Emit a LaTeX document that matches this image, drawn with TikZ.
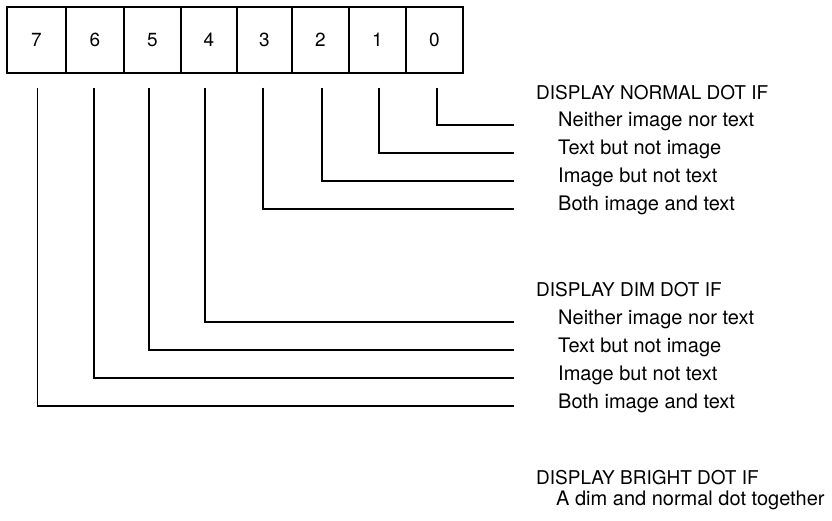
\documentclass[tikz,border=0pt]{standalone}
\usepackage{fontspec}
\setmainfont{TeX Gyre Heros}
\usetikzlibrary{calc}
\begin{document}
\begin{tikzpicture}[x=1pt,y=-1pt,
  bitbox/.style={draw,line width=1.4pt,minimum height=66pt,inner sep=0pt,font=\fontsize{19}{23}\selectfont},
  lbl/.style={anchor=west,inner sep=0pt,text height=13.7pt,text depth=0pt,font=\fontsize{20}{24}\selectfont},
  ttl/.style={anchor=west,inner sep=0pt,text height=13.7pt,text depth=0pt,font=\fontsize{19}{23}\selectfont},
  wire/.style={line width=1.3pt}]
\useasboundingbox (0,0) rectangle (832,520);
% bit boxes
\node[bitbox,minimum width=59pt] (b7) at (36.5,40) {7};
\node[bitbox,minimum width=58pt] (b6) at (95,40) {6};
\node[bitbox,minimum width=57pt] (b5) at (152.5,40) {5};
\node[bitbox,minimum width=56pt] (b4) at (209,40) {4};
\node[bitbox,minimum width=55pt] (b3) at (264.5,40) {3};
\node[bitbox,minimum width=57pt] (b2) at (320.5,40) {2};
\node[bitbox,minimum width=57pt] (b1) at (377.5,40) {1};
\node[bitbox,minimum width=57pt] (b0) at (434.5,40) {0};
% start points of leads
\coordinate (s7) at ($(b7.south)+(1,14)$);
\coordinate (s6) at ($(b6.south)+(-1,14)$);
\coordinate (s5) at ($(b5.south)+(-3.5,14)$);
\coordinate (s4) at ($(b4.south)+(-4,14)$);
\coordinate (s3) at ($(b3.south)+(-1.5,14)$);
\coordinate (s2) at ($(b2.south)+(1.5,14)$);
\coordinate (s1) at ($(b1.south)+(1.5,14)$);
\coordinate (s0) at ($(b0.south)+(2.5,14)$);
% end points
\coordinate (e0) at (514,125);
\coordinate (e1) at (514,153);
\coordinate (e2) at (514,181);
\coordinate (e3) at (514,209);
\coordinate (e4) at (514,322);
\coordinate (e5) at (514,350);
\coordinate (e6) at (514,378);
\coordinate (e7) at (514,406);
\foreach \i in {0,...,7} {\draw[wire] (s\i) |- (e\i);}
% labels
\node[ttl] (tn) at (536,93) {DISPLAY NORMAL DOT IF};
\node[lbl] (n0) at (558,120) {Neither image nor text};
\node[lbl] (n1) at (558,148) {Text but not image};
\node[lbl] (n2) at (558,176) {Image but not text};
\node[lbl] (n3) at (558,204) {Both image and text};
\node[ttl] (td) at (536,290) {DISPLAY DIM DOT IF};
\node[lbl] (d4) at (558,318) {Neither image nor text};
\node[lbl] (d5) at (558,346) {Text but not image};
\node[lbl] (d6) at (558,374) {Image but not text};
\node[lbl] (d7) at (558,402) {Both image and text};
\node[ttl] (tb) at (536,478) {DISPLAY BRIGHT DOT IF};
\node[lbl] (bb) at (556,499) {A dim and normal dot together};
\end{tikzpicture}
\end{document}
